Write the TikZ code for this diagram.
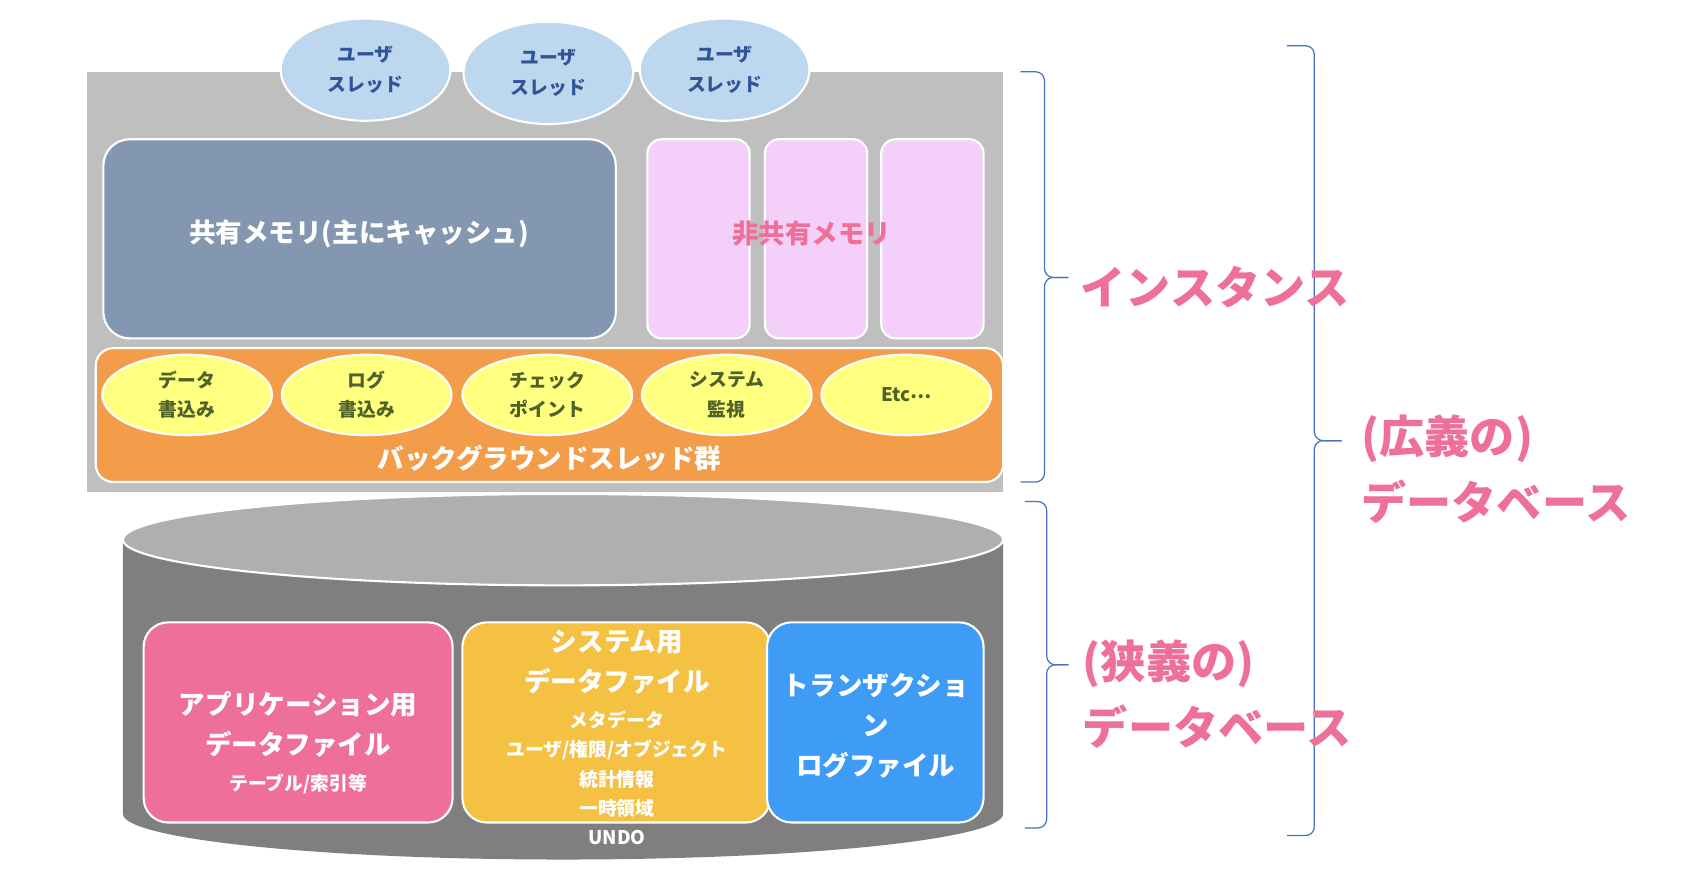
\documentclass[tikz,border=0pt]{standalone}
\usepackage{fontspec}
\setmainfont{Noto Sans CJK JP}
\usetikzlibrary{decorations.pathreplacing}
\definecolor{instgray}{HTML}{BFBFBF}
\definecolor{uthfill}{HTML}{BDD7EE}
\definecolor{uthtext}{HTML}{2F5597}
\definecolor{shmem}{HTML}{8497B0}
\definecolor{nshfill}{HTML}{F4CFFA}
\definecolor{pinkt}{HTML}{EE7098}
\definecolor{bgorange}{HTML}{F39D4A}
\definecolor{yell}{HTML}{FFFF80}
\definecolor{olivet}{HTML}{4F6228}
\definecolor{cyltop}{HTML}{AFAFAF}
\definecolor{cylbody}{HTML}{7F7F7F}
\definecolor{appfill}{HTML}{EE7098}
\definecolor{sysfill}{HTML}{F5C143}
\definecolor{logfill}{HTML}{3E9BF6}
\definecolor{bracecol}{HTML}{4472C4}
\newcommand\smtxt{\fontsize{10.7}{16.7}\selectfont}
\newcommand\mdtxt{\fontsize{15.1}{22.8}\selectfont}
\begin{document}
\begin{tikzpicture}[x=.2176mm, y=-.2176mm,
    wbox/.style={draw=white, line width=1.2pt},
    txts/.style={align=center, font=\smtxt\bfseries},
    txtm/.style={align=center, font=\mdtxt\bfseries},
    txtl/.style={align=left, inner sep=0pt, text=pinkt, font=\fontsize{25.7}{37.6}\selectfont\bfseries},
    brc/.style={draw=bracecol, line width=.7pt, rounded corners=5pt}]
    \useasboundingbox (0,0) rectangle (1568,803);
    \fill[instgray] (80,66) rectangle (922,452); % インスタンス
    \foreach \cx/\cy/\i in {336/64/1, 504/67/2, 666/64/3}{
        \draw[wbox, fill=uthfill] (\cx,\cy) ellipse [x radius=78, y radius=47];
        \node[txts, text=uthtext] (user\i) at (\cx,\cy) {ユーザ\\スレッド};
    }
    \draw[wbox, fill=shmem, rounded corners=15pt] (95,128) rectangle (566,311);
    \node[txtm, text=white] (shmemtxt) at (330,215) {共有メモリ(主にキャッシュ)};
    \foreach \x in {595, 703, 810}{\draw[wbox, fill=nshfill, rounded corners=8pt] (\x,128) rectangle ++(94,183);}
    \node[txtm, text=pinkt] (nshmemtxt) at (746,215) {非共有メモリ};
    % バックグラウンド
    \draw[wbox, fill=bgorange, rounded corners=10pt] (88,320) rectangle (922,443);
    \foreach \cx/\lbl [count=\i] in {172/{データ\\書込み}, 337/{ログ\\書込み}, 503/{チェック\\ポイント}, 668/{システム\\監視}, 833/{Etc\raisebox{.3ex}{…}}}{
        \draw[wbox, fill=yell] (\cx,363) ellipse [x radius=78, y radius=37];
        \node[txts, text=olivet] (bg\i) at (\cx,363) {\lbl};
    }
    \node[txtm, text=white] (bgname) at (505,421) {バックグラウンドスレッド群};
    % データベース (円柱)
    \fill[cylbody] (113,496) -- (113,748) arc[start angle=180, end angle=0, x radius=404.5, y radius=42] -- (922,496) -- cycle;
    \draw[wbox, fill=cyltop] (517.5,496) ellipse [x radius=404.5, y radius=42];
    \draw[wbox, fill=appfill, rounded corners=14pt] (132,572) rectangle (416,756);
    \node[txtm, text=white] (appfile) at (274,683) {アプリケーション用\\データファイル\\[-2.4pt]\smtxt テーブル/索引等};
    \draw[wbox, fill=sysfill, rounded corners=14pt] (425,572) rectangle (708,756);
    \node[txts, text=white] (sysfile) at (567,678) {\mdtxt システム用\\[6.1pt]\mdtxt データファイル\\[3.7pt]メタデータ\\ユーザ/権限/オブジェクト\\統計情報\\一時領域\\UNDO};
    \draw[wbox, fill=logfill, rounded corners=14pt] (705,572) rectangle (904,756);
    \node[txtm, text=white] (logfile) at (805,667) {トランザクショ\\ン\\ログファイル};
    % 括弧
    \foreach \n/\bx/\ya/\ym/\yb/\w in {1/938/66/255/443/22, 2/942/461/611/761/20, 3/1183/42/405/768/25}{
        \coordinate (b\n a) at (\bx,\ya); \coordinate (b\n m) at (\bx+2*\w,\ym); \coordinate (b\n b) at (\bx,\yb);
        \draw[brc] (b\n a) -| (\bx+\w,\ym) -- (b\n m);
        \draw[brc] (b\n m) -- (\bx+\w,\ym) |- (b\n b);
    }
    \node[txtl, anchor=west] (inst) at (993,264) {インスタンス};
    \node[txtl, anchor=west] (widedb) at (1251,431) {(広義の)\\データベース};
    \node[txtl, anchor=west] (narrowdb) at (995,638) {(狭義の)\\データベース};
\end{tikzpicture}
\end{document}
